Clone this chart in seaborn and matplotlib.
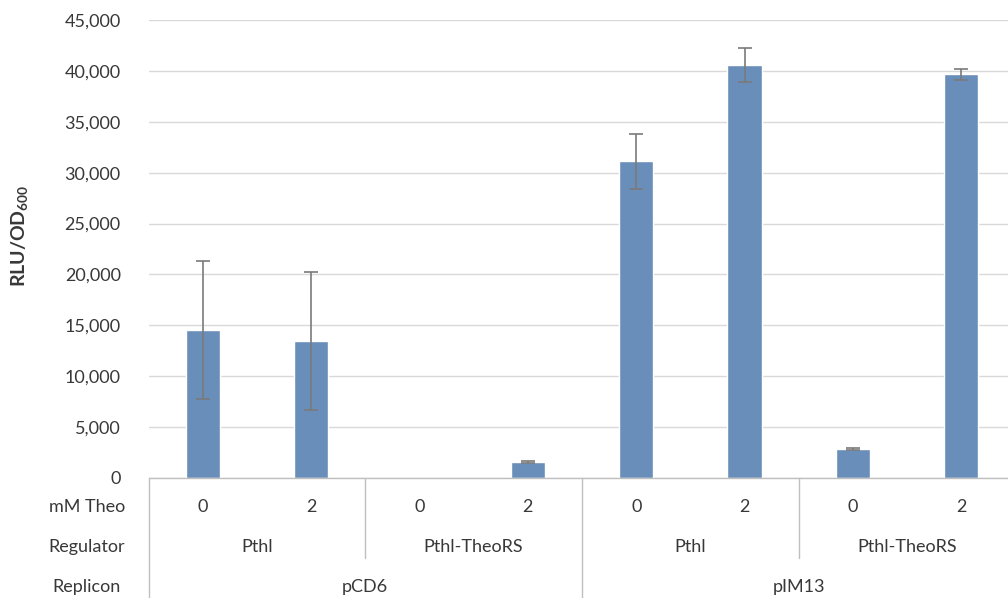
import pandas as pd
import matplotlib
matplotlib.use("Agg")
import matplotlib.pyplot as plt
import matplotlib.transforms as mtrans
from matplotlib.ticker import FuncFormatter
import seaborn as sns

# data
theo = ["0", "2", "0", "2", "0", "2", "0", "2"]
regulator = ["Pthl", "Pthl-TheoRS", "Pthl", "Pthl-TheoRS"]
replicon = ["pCD6", "pIM13"]
rlu = [14550, 13450, 0, 1600, 31100, 40600, 2850, 39650]
rlu_err = [6800, 6800, 0, 100, 2700, 1650, 80, 550]

df = pd.DataFrame({"cond": [f"c{i}" for i in range(len(rlu))], "rlu": rlu, "err": rlu_err})

sns.set_style("white")
plt.rcParams["font.family"] = ["Lato", "DejaVu Sans"]
plt.rcParams["mathtext.default"] = "regular"
txt = "#383838"
fs = 13
W, H = 1008, 598

fig = plt.figure(figsize=(W / 100, H / 100), dpi=100)
# plot area in pixels: x 148.5..1015.5, y 20..478
ax = fig.add_axes([148.5 / W, (H - 478) / H, 867 / W, 458 / H])

sns.barplot(data=df, x="cond", y="rlu", color="#6a8eba", width=0.315,
            saturation=1, ax=ax, zorder=2)
# no error bar on the empty bar
has_err = df[df["err"] > 0]
ax.errorbar(has_err.index, has_err["rlu"], yerr=has_err["err"], fmt="none",
            ecolor="#7a7a7a", elinewidth=1.2, capsize=5, capthick=1.2, zorder=3)

ax.set_xlim(-0.5, 7.5)
ax.set_ylim(0, 45000)
ax.set_yticks(range(0, 45001, 5000))
ax.yaxis.set_major_formatter(FuncFormatter(lambda v, p: f"{v:,.0f}"))
ax.grid(axis="y", color="#d9d9d9", lw=1, zorder=0)
ax.set_axisbelow(True)
for s in ["top", "right", "left"]:
    ax.spines[s].set_visible(False)
ax.spines["bottom"].set_color("#bfbfbf")
ax.spines["bottom"].set_linewidth(1)
ax.tick_params(axis="y", length=0, pad=20, labelsize=fs, labelcolor=txt)
ax.set_xticks([])
ax.set_xlabel("")
ax.set_ylabel("")

fig.text(20 / W, (H - 236) / H, r"RLU/OD$_{600}$", rotation=90, ha="center",
         va="center", fontsize=14, fontweight="bold", color=txt)

# multi-level category axis
tr = mtrans.blended_transform_factory(ax.transData, ax.transAxes)
def ya(py):
    return (478 - py) / 458

for i, t in enumerate(theo):
    ax.text(i, ya(507), t, transform=tr, ha="center", va="center",
            fontsize=fs, color=txt)
for j, r in enumerate(regulator):
    ax.text(2 * j + 0.5, ya(547), r, transform=tr, ha="center", va="center",
            fontsize=fs, color=txt)
for k, r in enumerate(replicon):
    ax.text(4 * k + 1.5, ya(587), r, transform=tr, ha="center", va="center",
            fontsize=fs, color=txt)

for xb in [-0.5, 3.5, 7.5]:
    ax.plot([xb, xb], [0, ya(600)], transform=tr, color="#bfbfbf", lw=1, clip_on=False)
for xb in [1.5, 5.5]:
    ax.plot([xb, xb], [0, ya(558)], transform=tr, color="#bfbfbf", lw=1, clip_on=False)

for py, lab in [(507, "mM Theo"), (547, "Regulator"), (587, "Replicon")]:
    fig.text(87 / W, (H - py) / H, lab, ha="center", va="center",
             fontsize=fs, color=txt)

fig.savefig("out.png", dpi=100)
